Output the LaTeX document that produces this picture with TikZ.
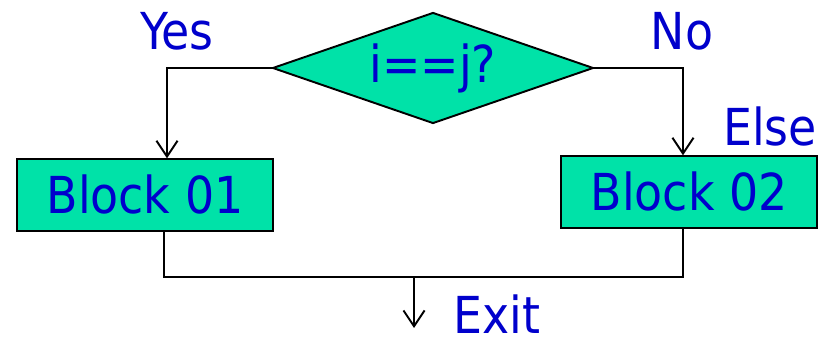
\documentclass[tikz,border=0pt]{standalone}
\usepackage{fontspec}
\setmainfont{DejaVu Sans Condensed}
\usetikzlibrary{shapes.geometric,arrows.meta,positioning}

\definecolor{boxfill}{RGB}{0,226,168}
\definecolor{txtblue}{RGB}{0,0,204}

\begin{document}
\begin{tikzpicture}[x=0.02cm,y=-0.02cm,
  every node/.style={text=txtblue,inner sep=1pt,font=\fontsize{29}{34}\selectfont},
  block/.style={draw,rectangle,fill=boxfill,line width=1.1pt,minimum width=5.12cm,minimum height=1.43cm,inner sep=0pt},
  decision/.style={draw,diamond,shape aspect=2.9,fill=boxfill,line width=1.1pt,minimum width=6.42cm,minimum height=2.22cm,inner sep=0pt},
  flow/.style={line width=1.1pt,-{Straight Barb[length=9pt,width=12pt,line width=1.1pt]}},
  wire/.style={line width=1.1pt}]

        \useasboundingbox (0,0) rectangle (826,344);

        \node (Q) [decision] at (433,68) {i==j?};
        \node (B1) [block] at (145,195) {Block 01};
        \node (B2) [block] at (689,192) {Block 02};

        \coordinate (J) at (414,277);
        \coordinate (X) at (414,328);

        % branches
        \draw[flow] (Q.west) -| (B1.north -| 167,0);
        \draw[flow] (Q.east) -| (B2.north -| 683,0);

        % join and exit
        \draw[wire] (B1.south -| 164,0) |- (J) -| (B2.south -| 683,0);
        \draw[flow] (J) -- (X);

        \node (yes) at (177,31) {Yes};
        \node (no) at (682,31) {No};
        \node (else) at (770,127) {Else};
        \node (exit) at (497,314) {Exit};
      \end{tikzpicture}
\end{document}
